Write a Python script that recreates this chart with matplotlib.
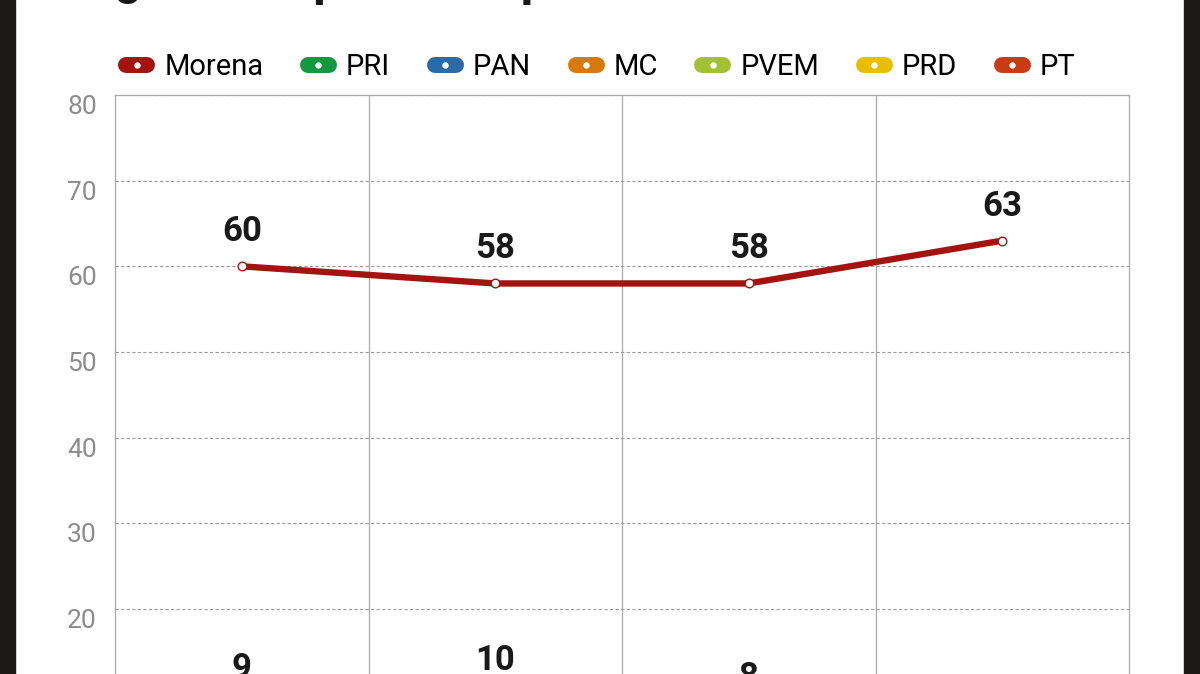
import matplotlib
matplotlib.use('Agg')
import matplotlib.pyplot as plt
from matplotlib.lines import Line2D
from matplotlib.patches import Rectangle

# Data (title is cut off at the top of the picture)
title = '¿Cuánto por cada partido en la elección?'
periods = ['1', '2', '3', '4']
parties = ['Morena', 'PRI', 'PAN', 'MC', 'PVEM', 'PRD', 'PT']
party_colors = ['#a3130f', '#13973f', '#2a6aa5', '#d9780c', '#a3c132', '#e8bf00', '#c93a15']
morena_values = [60, 58, 58, 63]
pri_values = [9, 10, 8, 6]
y_ticks = [0, 10, 20, 30, 40, 50, 60, 70, 80]

plt.rcParams['font.family'] = ['Roboto', 'DejaVu Sans']

DPI = 100
fig = plt.figure(figsize=(12, 6.74), dpi=DPI)
fig.patch.set_facecolor('white')

# the picture is a crop: dark frame at the sides, axis runs below the bottom edge
fig.add_artist(Rectangle((0, 0), 15 / 1200, 1, transform=fig.transFigure,
                         color='#1d1917', zorder=10))
fig.add_artist(Rectangle((1184 / 1200, 0), 16 / 1200, 1, transform=fig.transFigure,
                         color='#1d1917', zorder=10))

ax = fig.add_axes([115 / 1200, 1 - 780.3 / 674, (1129 - 115) / 1200, 685.3 / 674])
x = list(range(len(periods)))


def draw_series(values, color):
    ax.plot(x, values, color=color, lw=4.6, solid_capstyle='round', zorder=3)
    ax.plot(x, values, ls='none', marker='o', ms=6.2, mfc='white', mec=color,
            mew=1.0, zorder=4)
    for xi, v in zip(x, values):
        ax.annotate(str(v), (xi, v), xytext=(0, 18), textcoords='offset points',
                    ha='center', va='baseline', fontsize=25, fontweight='bold',
                    color='#1a1a1a', zorder=5)


draw_series(morena_values, party_colors[0])
draw_series(pri_values, party_colors[1])

ax.set_xlim(-0.5, len(periods) - 0.5)
ax.set_ylim(0, 80)
ax.set_xticks([])
ax.set_xticks([i + 0.5 for i in x[:-1]], minor=True)
ax.tick_params(axis='x', which='both', length=0, labelbottom=False)
ax.grid(True, axis='x', which='minor', color='#a8a8a8', lw=0.9, ls='-')

ax.set_yticks(y_ticks)
ax.set_yticklabels([str(t) for t in y_ticks])
ax.tick_params(axis='y', length=0, pad=13, labelsize=19, labelcolor='#8c8c8c')
for lbl in ax.get_yticklabels():
    lbl.set_verticalalignment('top')
ax.grid(True, axis='y', which='major', color='#9c9c9c', lw=0.8, ls=(0, (3, 2)))
ax.set_axisbelow(True)

for side in ['left', 'right', 'top']:
    ax.spines[side].set_color('#a8a8a8')
    ax.spines[side].set_linewidth(0.9)
ax.spines['bottom'].set_visible(False)

# legend: rounded pills with a white dot
handles = [Line2D([0], [0], color=c, lw=11.5, solid_capstyle='round',
                  marker='o', ms=3.6, mfc='white', mec='white')
           for c in party_colors]
fig.legend(handles, parties, loc='center', bbox_to_anchor=(0.5007, 1 - 67 / 674),
           ncol=len(parties), frameon=False, fontsize=21, handlelength=0.72,
           handletextpad=0.58, columnspacing=1.53, numpoints=1,
           borderaxespad=0, borderpad=0)

fig.text(0.096, 1 + 5 / 674, title, ha='left', va='baseline',
         fontsize=36, fontweight='bold', color='#1a1716')

fig.savefig('out.png', dpi=DPI)
